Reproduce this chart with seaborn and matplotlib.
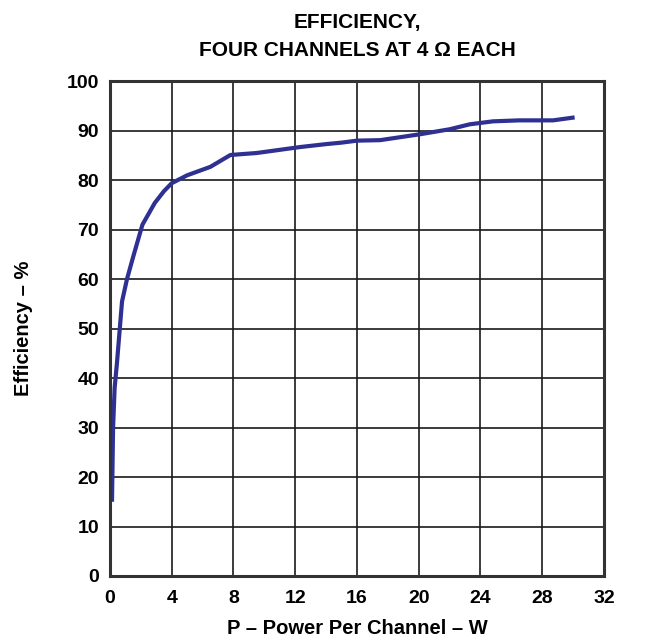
import matplotlib
import seaborn as sns
import matplotlib.pyplot as plt
import pandas as pd

# power per channel (W) and efficiency (%)
power = [0.13, 0.2, 0.3, 0.45, 0.78, 1.1, 1.5, 2.1, 2.9, 3.5, 4.0, 5.0, 6.5, 7.8,
         9.5, 12.3, 14.0, 15.0, 16.0, 17.5, 20.1, 22.0, 23.3, 24.8, 26.5, 28.7, 30.1]
efficiency = [15.0, 30.0, 38.0, 43.0, 55.5, 60.0, 64.5, 71.0, 75.4, 77.8, 79.4, 81.0,
              82.7, 85.1, 85.5, 86.7, 87.3, 87.6, 88.0, 88.1, 89.3, 90.3, 91.3, 91.9,
              92.1, 92.1, 92.7]

df = pd.DataFrame({'power': power, 'eff': efficiency})

sns.set_style('white')
plt.rcParams['font.family'] = ['Liberation Sans', 'DejaVu Sans']
plt.rcParams['font.weight'] = 'bold'
plt.rcParams['text.color'] = 'black'
plt.rcParams['axes.labelcolor'] = 'black'
plt.rcParams['xtick.color'] = 'black'
plt.rcParams['ytick.color'] = 'black'

fig = plt.figure(figsize=(6.47, 6.40), dpi=100)
ax = fig.add_axes([0.170, 0.100, 0.7635, 0.773])

sns.lineplot(data=df, x='power', y='eff', ax=ax, color='#2E3192', linewidth=3.0,
             solid_capstyle='butt', solid_joinstyle='round')

ax.set_xlim(0, 32)
ax.set_ylim(0, 100)
ax.set_xticks(range(0, 33, 4))
ax.set_yticks(range(0, 101, 10))
ax.grid(True, color='#1a1a1a', linewidth=1.2)
ax.tick_params(axis='x', length=0, labelsize=14, pad=10)
ax.tick_params(axis='y', length=0, labelsize=14, pad=8)
for lab in ax.get_xticklabels() + ax.get_yticklabels():
    lab.set_fontweight('bold')
for s in ax.spines.values():
    s.set_linewidth(2.2)
    s.set_color('#333333')

ax.set_xlabel('P \u2013 Power Per Channel \u2013 W', fontsize=14.5, fontweight='bold', labelpad=9)
ax.set_ylabel('Efficiency \u2013 %', fontsize=14.5, fontweight='bold', labelpad=24)
ax.set_title('EFFICIENCY,\nFOUR CHANNELS AT 4 \u03a9 EACH', fontsize=15,
             fontweight='bold', pad=18, linespacing=1.65)

fig.savefig('out.png', dpi=100)
